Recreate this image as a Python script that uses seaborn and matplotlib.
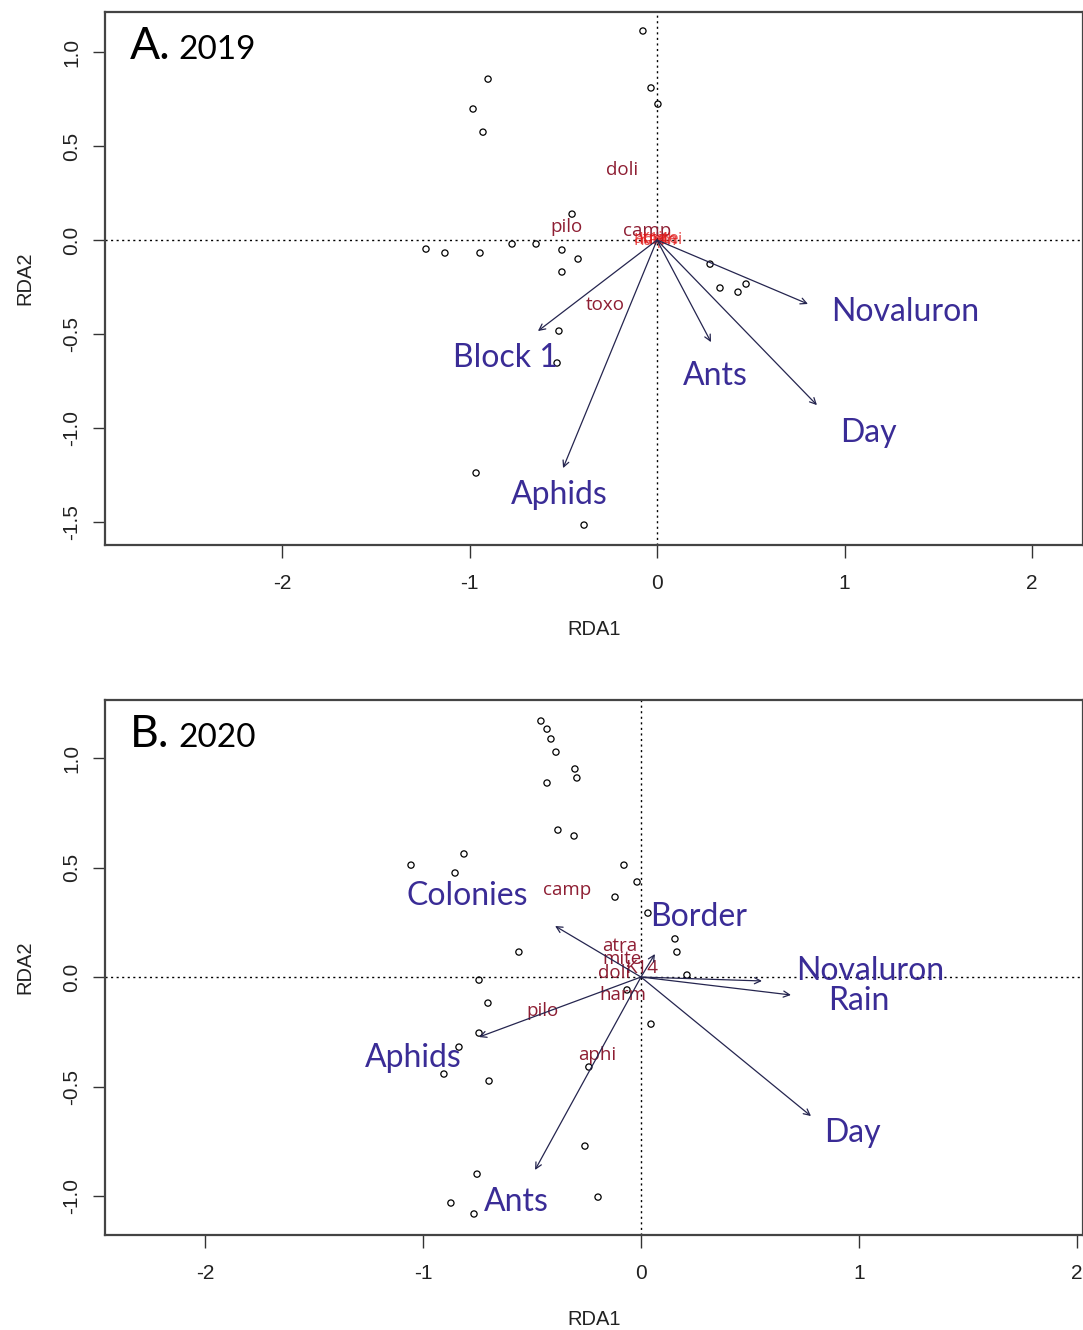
import matplotlib
matplotlib.use("Agg")
import matplotlib.pyplot as plt
import matplotlib.font_manager as fm
import seaborn as sns
import pandas as pd

# ---------------- 2019 RDA ----------------
sites_2019_rda1 = [-0.075, -0.032, 0.005, -0.901, -0.981, -0.928, -0.453, -1.232, -1.131,
                   -0.944, -0.773, -0.645, -0.507, -0.421, -0.507, -0.523, -0.533, 0.283,
                   0.336, 0.432, 0.475, -0.965, -0.389]
sites_2019_rda2 = [1.112, 0.809, 0.723, 0.856, 0.697, 0.574, 0.138, -0.048, -0.069,
                   -0.069, -0.021, -0.021, -0.053, -0.101, -0.170, -0.484, -0.654, -0.128,
                   -0.255, -0.277, -0.234, -1.239, -1.516]

env_2019 = ["Block 1", "Aphids", "Ants", "Novaluron", "Day"]
env_2019_rda1 = [-0.635, -0.501, 0.288, 0.805, 0.853]
env_2019_rda2 = [-0.484, -1.213, -0.543, -0.340, -0.878]
env_2019_lab_x = [-0.811, -0.523, 0.309, 1.323, 1.125]
env_2019_lab_y = [-0.628, -1.356, -0.723, -0.383, -1.027]

spp_2019 = ["doli", "pilo", "toxo", "camp"]
spp_2019_rda1 = [-0.187, -0.485, -0.277, -0.053]
spp_2019_rda2 = [0.372, 0.069, -0.346, 0.048]
# species with scores close to the origin
spp_2019_near = ["atra", "mite", "harm", "aphi", "K14"]
spp_2019_near_rda1 = [-0.04, 0.02, -0.01, 0.04, -0.02]
spp_2019_near_rda2 = [0.008, 0.004, -0.004, 0.000, -0.002]

# ---------------- 2020 RDA ----------------
sites_2020_rda1 = [-0.459, -0.431, -0.413, -0.390, -0.303, -0.294, -0.431, -0.381, -0.307,
                   -1.055, -0.812, -0.853, -0.078, -0.018, -0.119, 0.032, -0.560, 0.156,
                   0.165, -0.743, -0.702, -0.064, 0.046, -0.743, -0.835, 0.211, -0.904,
                   -0.697, -0.239, -0.257, -0.752, -0.872, -0.766, -0.197]
sites_2020_rda2 = [1.169, 1.132, 1.087, 1.027, 0.950, 0.909, 0.886, 0.671, 0.644,
                   0.511, 0.562, 0.475, 0.511, 0.434, 0.365, 0.292, 0.114, 0.174,
                   0.114, -0.014, -0.119, -0.059, -0.215, -0.256, -0.320, 0.009, -0.443,
                   -0.475, -0.411, -0.772, -0.900, -1.032, -1.082, -1.005]

env_2020 = ["Colonies", "Border", "Novaluron", "Rain", "Day", "Aphids", "Ants"]
env_2020_rda1 = [-0.394, 0.064, 0.555, 0.688, 0.780, -0.743, -0.486]
env_2020_rda2 = [0.233, 0.105, -0.018, -0.082, -0.635, -0.274, -0.881]
env_2020_lab_x = [-0.798, 0.266, 1.050, 1.000, 0.968, -1.046, -0.573]
env_2020_lab_y = [0.370, 0.274, 0.027, -0.110, -0.712, -0.370, -1.027]

spp_2020 = ["camp", "atra", "mite", "K14", "doli", "harm", "pilo", "aphi"]
spp_2020_rda1 = [-0.339, -0.096, -0.087, 0.005, -0.124, -0.083, -0.450, -0.202]
spp_2020_rda2 = [0.397, 0.142, 0.082, 0.040, 0.018, -0.082, -0.155, -0.356]

# ---------------- styling ----------------
available = {f.name for f in fm.fontManager.ttflist}
def pick(*names):
    for n in names:
        if n in available:
            return n
    return "DejaVu Sans"

AXIS_FONT = pick("Liberation Sans Narrow", "Liberation Sans", "Arial")
LABEL_FONT = pick("Lato", "Open Sans", "Noto Sans")
SPP_FONT = pick("Open Sans", "Lato", "Noto Sans")

sns.set_theme(style="white")
plt.rcParams["font.family"] = [AXIS_FONT, "DejaVu Sans"]

ENV_COLOR = "#3a2c96"
SPP_COLOR = "#8e1e33"
NEAR_COLOR = "#e01818"
ARROW_COLOR = "#25254f"

fig = plt.figure(figsize=(10.83, 13.30), dpi=100)
W, H = 1083, 1330
ax_a = fig.add_axes([105 / W, (H - 545) / H, 978 / W, 533 / H])
ax_b = fig.add_axes([105 / W, (H - 1235) / H, 978 / W, 535 / H])


def draw_panel(ax, sx, sy, env, ex, ey, lx, ly, spp, px, py, xlim, ylim, yticks,
               tag, year, near=None):
    ax.set_xlim(*xlim)
    ax.set_ylim(*ylim)
    ax.axhline(0, color="black", lw=1.0, ls=(0, (1.5, 2.5)), zorder=1)
    ax.axvline(0, color="black", lw=1.0, ls=(0, (1.5, 2.5)), zorder=1)

    sites = pd.DataFrame({"RDA1": sx, "RDA2": sy})
    sns.scatterplot(data=sites, x="RDA1", y="RDA2", ax=ax, marker="o", s=20,
                    facecolor="none", edgecolor="black", linewidth=0.9, zorder=3)

    for name, x, y in zip(spp, px, py):
        ax.text(x, y, name, color=SPP_COLOR, fontsize=13.5, family=SPP_FONT,
                ha="center", va="center", zorder=4)
    if near is not None:
        for name, x, y in zip(*near):
            ax.text(x, y, name, color=NEAR_COLOR, fontsize=12.5, family=SPP_FONT,
                    ha="center", va="center", alpha=0.75, zorder=4)

    for x, y in zip(ex, ey):
        ax.annotate("", xy=(x, y), xytext=(0, 0),
                    arrowprops=dict(arrowstyle="->", color=ARROW_COLOR, lw=0.9,
                                    mutation_scale=11, shrinkA=0, shrinkB=0),
                    zorder=5)
    for name, x, y in zip(env, lx, ly):
        ax.text(x, y, name, color=ENV_COLOR, fontsize=23, family=LABEL_FONT,
                ha="center", va="center", zorder=6)

    ax.set_xticks([-2, -1, 0, 1, 2])
    ax.set_xticklabels(["-2", "-1", "0", "1", "2"])
    ax.set_yticks(yticks)
    ax.set_yticklabels([f"{t:.1f}" for t in yticks], rotation=90, va="center")
    ax.tick_params(axis="both", direction="out", length=9, width=1.0, color="#333333",
                   labelsize=15, labelcolor="#222222", bottom=True, left=True)
    ax.tick_params(axis="x", pad=12)
    ax.tick_params(axis="y", pad=8)
    ax.set_xlabel("RDA1", fontsize=14.5, color="#222222", labelpad=19)
    ax.set_ylabel("RDA2", fontsize=14.5, color="#222222", labelpad=20)
    for sp in ax.spines.values():
        sp.set_color("#444444")
        sp.set_linewidth(1.6)

    ax.text(0.0256, 0.912, tag, transform=ax.transAxes, fontsize=32,
            family=LABEL_FONT, color="black", ha="left", va="baseline")
    ax.text(0.075, 0.912, year, transform=ax.transAxes, fontsize=24,
            family=LABEL_FONT, color="black", ha="left", va="baseline")


draw_panel(ax_a, sites_2019_rda1, sites_2019_rda2, env_2019, env_2019_rda1, env_2019_rda2,
           env_2019_lab_x, env_2019_lab_y, spp_2019, spp_2019_rda1, spp_2019_rda2,
           (-2.944, 2.272), (-1.622, 1.213), [-1.5, -1.0, -0.5, 0.0, 0.5, 1.0],
           "A.", "2019", near=(spp_2019_near, spp_2019_near_rda1, spp_2019_near_rda2))

draw_panel(ax_b, sites_2020_rda1, sites_2020_rda2, env_2020, env_2020_rda1, env_2020_rda2,
           env_2020_lab_x, env_2020_lab_y, spp_2020, spp_2020_rda1, spp_2020_rda2,
           (-2.459, 2.028), (-1.178, 1.265), [-1.0, -0.5, 0.0, 0.5, 1.0],
           "B.", "2020")

fig.savefig("out.png", dpi=100, facecolor="white")
